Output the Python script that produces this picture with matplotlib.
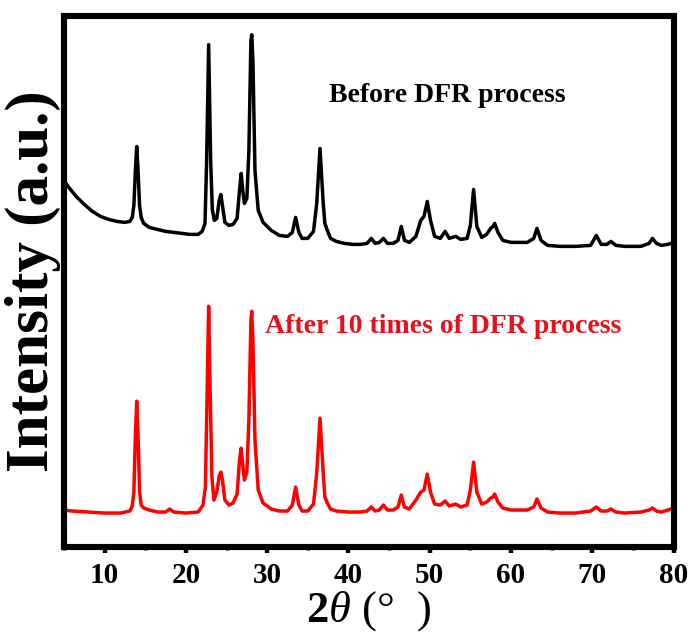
import matplotlib
matplotlib.use("Agg")
import matplotlib.pyplot as plt
from matplotlib.ticker import MultipleLocator

plt.rcParams['font.family'] = ['Liberation Serif', 'DejaVu Serif']
plt.rcParams['mathtext.fontset'] = 'custom'
plt.rcParams['mathtext.bf'] = 'Liberation Serif:bold'
plt.rcParams['mathtext.it'] = 'Liberation Serif:italic'
plt.rcParams['mathtext.rm'] = 'Liberation Serif'

# Diffraction patterns (2-theta in degrees, intensity in arbitrary units)
two_theta_before = [
    5.0, 5.5, 6.5, 7.5, 8.5, 9.5, 10.5, 11.5, 12.5, 13.1, 13.4, 13.6, 13.78, 13.95, 14.12, 14.3,
    14.5, 14.8, 15.5, 16.5, 17.5, 18.5, 19.5, 20.5, 21.5, 22.0, 22.35, 22.55, 22.8, 23.05, 23.25,
    23.5, 23.8, 24.1, 24.3, 24.5, 24.8, 25.3, 25.8, 26.3, 26.6, 26.8, 27.0, 27.2, 27.5, 27.75, 28.0,
    28.1, 28.25, 28.5, 28.9, 29.5, 30.5, 31.5, 32.5, 33.1, 33.5, 33.9, 34.3, 35.0, 35.7, 36.1, 36.5,
    36.9, 37.1, 37.4, 37.8, 38.5, 39.5, 40.5, 41.5, 42.3, 42.8, 43.3, 43.8, 44.3, 44.8, 45.5, 46.1,
    46.5, 46.9, 47.5, 48.3, 48.9, 49.3, 49.7, 50.1, 50.6, 51.3, 51.9, 52.4, 53.2, 53.8, 54.6, 55.0,
    55.4, 55.8, 56.4, 57.0, 57.5, 57.8, 58.0, 58.4, 59.0, 60.0, 61.0, 62.0, 62.8, 63.2, 63.7, 64.5,
    66.0, 68.0, 69.8, 70.5, 71.1, 71.8, 72.3, 72.9, 74.0, 76.0, 77.0, 77.4, 77.9, 78.5, 79.3, 80.0,
]
intensity_before = [
    101, 95, 85, 77, 70, 65, 62, 60, 59, 60, 64, 76, 110, 135, 110, 76,
    64, 58, 54, 52, 50, 49, 48, 47, 47, 50, 58, 120, 237, 120, 72,
    61, 63, 81, 87, 76, 59, 56, 57, 63, 91, 108, 91, 78, 83, 131, 241,
    247, 221, 111, 71, 59, 51, 46, 45, 49, 64, 49, 43, 43, 50, 78, 133,
    78, 58, 51, 43, 40, 38, 37, 37, 38, 43, 38, 39, 43, 38, 38, 41,
    55, 41, 39, 45, 61, 65, 80, 61, 45, 43, 50, 43, 45, 42, 43, 56,
    92, 55, 44, 47, 53, 55, 58, 49, 41, 39, 39, 39, 43, 53, 41, 36,
    35, 35, 36, 46, 37, 37, 40, 36, 35, 35, 38, 43, 38, 36, 37, 39,
]

two_theta_after = [
    5.0, 6.0, 8.0, 10.0, 12.0, 13.1, 13.4, 13.6, 13.78, 13.95, 14.12, 14.3, 14.5, 14.8, 15.5, 16.5,
    17.5, 18.0, 18.5, 20.0, 21.5, 22.1, 22.4, 22.6, 22.8, 23.0, 23.2, 23.45, 23.8, 24.1, 24.3, 24.5,
    24.8, 25.3, 25.8, 26.3, 26.6, 26.8, 27.0, 27.2, 27.5, 27.75, 28.0, 28.1, 28.25, 28.5, 28.9, 29.5,
    30.5, 31.5, 32.5, 33.1, 33.5, 33.9, 34.3, 35.0, 35.7, 36.1, 36.5, 36.9, 37.1, 37.4, 37.8, 38.5,
    40.0, 41.5, 42.3, 42.8, 43.3, 43.8, 44.3, 44.8, 45.5, 46.1, 46.5, 46.9, 47.5, 48.3, 48.9, 49.3,
    49.7, 50.1, 50.6, 51.3, 51.9, 52.4, 53.2, 53.8, 54.6, 55.0, 55.4, 55.8, 56.4, 57.0, 57.5, 57.8,
    58.0, 58.4, 59.0, 60.0, 62.0, 62.8, 63.2, 63.7, 64.5, 66.0, 68.0, 69.8, 70.5, 71.1, 71.8, 72.3,
    72.9, 74.0, 76.0, 77.0, 77.4, 77.9, 78.5, 79.3, 80.0,
]
intensity_after = [
    37, 36, 35, 34, 34, 36, 41, 55, 110, 146, 110, 55, 42, 39, 37, 35,
    35, 38, 35, 34, 35, 42, 60, 150, 241, 150, 70, 47, 55, 71, 75, 67,
    47, 42, 44, 53, 87, 99, 82, 67, 75, 127, 227, 236, 207, 107, 57, 44,
    38, 36, 36, 42, 60, 42, 36, 36, 43, 74, 129, 74, 50, 44, 38, 36,
    35, 35, 36, 40, 36, 37, 42, 37, 37, 40, 52, 40, 38, 47, 55, 57,
    73, 55, 43, 42, 46, 41, 43, 40, 42, 57, 85, 55, 43, 45, 49, 50,
    53, 45, 39, 37, 37, 40, 48, 39, 35, 34, 34, 36, 40, 36, 36, 38,
    35, 34, 35, 37, 39, 36, 35, 37, 39,
]

stack_offset = 266
label_before = "Before DFR process"
label_after = "After 10 times of DFR process"

fig = plt.figure(figsize=(6.91, 6.35), dpi=100)
ax = fig.add_axes([0.0926, 0.1386, 0.8821, 0.8367])

ax.plot(two_theta_before, [v + stack_offset for v in intensity_before],
        color="black", lw=2.5, solid_joinstyle="round")
ax.plot(two_theta_after, intensity_after, color="#ff0000", lw=2.5, solid_joinstyle="round")

ax.text(52.2, 452, label_before, color="black", fontsize=20, fontweight="bold",
        ha="center", va="center")
ax.text(51.6, 221, label_after, color="#e8101a", fontsize=20, fontweight="bold",
        ha="center", va="center")

ax.set_xlim(5, 80)
ax.set_ylim(0, 532)
ax.xaxis.set_major_locator(MultipleLocator(10))
ax.xaxis.set_minor_locator(MultipleLocator(5))
ax.set_yticks([])
ax.tick_params(axis="x", which="major", direction="out", length=4.5, width=3.2,
               labelsize=21, pad=6)
ax.tick_params(axis="x", which="minor", direction="out", length=2.5, width=2.5)
for lab in ax.get_xticklabels():
    lab.set_fontweight("bold")
for sp in ax.spines.values():
    sp.set_linewidth(4.4)

ax.set_ylabel("Intensity (a.u.)", fontsize=44, fontweight="bold", labelpad=2)
ax.set_xlabel(r"$\mathbf{2}\mathit{θ}$ (°  )", fontsize=32, labelpad=0)

fig.savefig("out.png", dpi=100)
